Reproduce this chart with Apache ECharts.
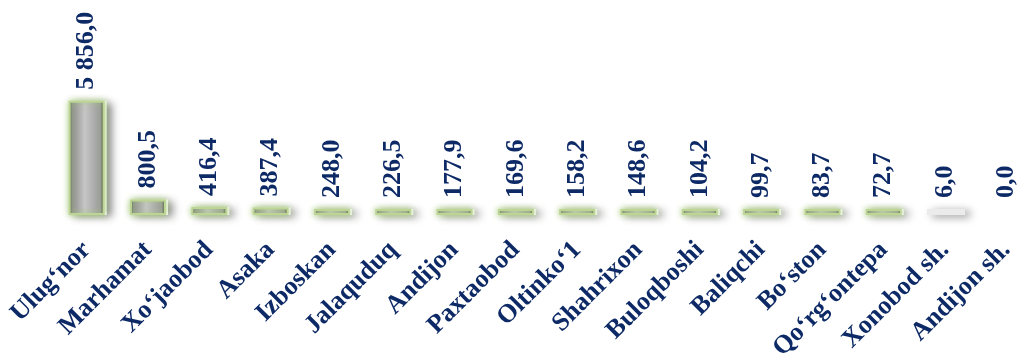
<!DOCTYPE html>
<html>
<head>
<meta charset="utf-8">
<script src="https://cdn.jsdelivr.net/npm/echarts@6/dist/echarts.min.js"></script>
<style>
html,body{margin:0;padding:0;background:#fff;}
#chart{width:1018px;height:354px;}
</style>
</head>
<body>
<div id="chart"></div>
<script>
var categories = ["Ulug\u2018nor","Marhamat","Xo\u2018jaobod","Asaka","Izboskan","Jalaquduq","Andijon","Paxtaobod","Oltinko\u20181","Shahrixon","Buloqboshi","Baliqchi","Bo\u2018ston","Qo\u2018rg\u2018ontepa","Xonobod sh.","Andijon sh."];
var values = [5856.0, 800.5, 416.4, 387.4, 248.0, 226.5, 177.9, 169.6, 158.2, 148.6, 104.2, 99.7, 83.7, 72.7, 6.0, 0.0];

function fmt(v){
  var s = v.toFixed(1).split('.');
  var i = s[0].replace(/\B(?=(\d{3})+(?!\d))/g, ' ');
  return i + ',' + s[1];
}

var navy = '#0d2a66';
var chart = echarts.init(document.getElementById('chart'));
chart.setOption({
  animation: false,
  grid: {left: 56, top: 98, width: 981, height: 117, containLabel: false, outerBoundsMode: 'none'},
  xAxis: {
    type: 'category',
    data: categories,
    axisLine: {show: false},
    axisTick: {show: false},
    axisLabel: {
      interval: 0,
      rotate: 45,
      margin: 31,
      color: navy,
      fontFamily: 'Liberation Serif',
      fontWeight: 'bold',
      fontSize: 26
    }
  },
  yAxis: {
    type: 'value',
    min: 0,
    max: 6000,
    show: false,
    splitLine: {show: false}
  },
  series: [{
    type: 'bar',
    name: 'shadow',
    silent: true,
    z: 1,
    barWidth: 38,
    barGap: '-100%',
    barMinHeight: 6,
    data: values.map(function(v){
      return {value: v, itemStyle: v === 0 ? {shadowColor: 'rgba(0,0,0,0)'} : (v < 10 ? {color: 'rgba(235,235,235,1)'} : {})};
    }),
    itemStyle: {
      color: '#ffffff',
      shadowColor: 'rgba(0,0,0,0.45)',
      shadowBlur: 8,
      shadowOffsetX: 5,
      shadowOffsetY: 2
    }
  }, {
    type: 'bar',
    z: 2,
    barWidth: 36,
    barGap: '-100%',
    barMinHeight: 6,
    data: values.map(function(v){
      return {
        value: v,
        itemStyle: v < 10 ? {color: 'rgba(0,0,0,0)', borderColor: 'rgba(0,0,0,0)', shadowColor: 'rgba(0,0,0,0)'} : {}
      };
    }),
    itemStyle: {
      color: new echarts.graphic.LinearGradient(0, 0, 1, 0, [
        {offset: 0, color: '#3a3a3a'},
        {offset: 0.1, color: '#8e8e8e'},
        {offset: 0.45, color: '#c6c6c6'},
        {offset: 0.88, color: '#9a9a9a'},
        {offset: 1, color: '#262626'}
      ]),
      borderColor: '#bcd595',
      borderWidth: 2,
      shadowColor: 'rgba(165,205,115,0.9)',
      shadowBlur: 6
    },
    label: {
      show: true,
      position: 'top',
      rotate: 90,
      align: 'left',
      verticalAlign: 'middle',
      distance: 11,
      color: navy,
      fontFamily: 'Liberation Serif',
      fontWeight: 'bold',
      fontSize: 26,
      formatter: function(p){ return fmt(p.value); }
    }
  }]
});
</script>
</body>
</html>
